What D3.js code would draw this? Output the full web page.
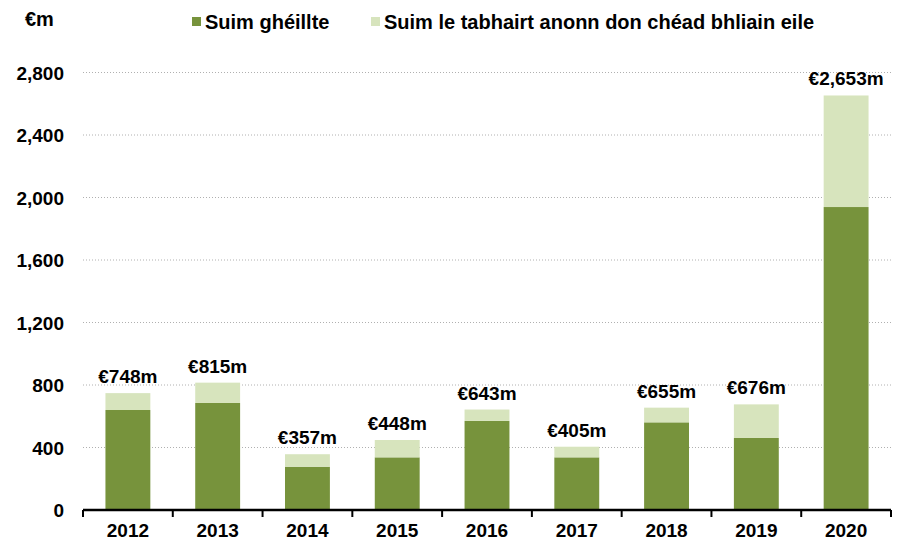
<!DOCTYPE html>
<html><head><meta charset="utf-8">
<script src="https://cdn.jsdelivr.net/npm/d3@7"></script>
<style>body{margin:0;background:#fff}svg{display:block}text{font-family:"Liberation Sans",Arial,sans-serif;font-weight:bold;fill:#000}</style>
</head><body><svg id="c" width="902" height="543"></svg>
<script>
const years = ["2012","2013","2014","2015","2016","2017","2018","2019","2020"];
const paid = [640, 685, 277, 337, 570, 337, 561, 461, 1939];
const deferred = [108, 130, 80, 111, 73, 68, 94, 215, 714];
const seriesNames = ["Suim ghéillte", "Suim le tabhairt anonn don chéad bhliain eile"];
const yTicks = [0, 400, 800, 1200, 1600, 2000, 2400, 2800];
const colors = ["#77933C", "#D7E4BD"];

const svg = d3.select("#c");
const x = d3.scaleBand().domain(years).range([83, 891]).paddingInner(0.5).paddingOuter(0.25);
const y = d3.scaleLinear().domain([0, 2800]).range([510, 72.5]);

// gridlines
svg.append("g").selectAll("line").data(yTicks.filter(d => d > 0)).join("line")
  .attr("x1", 83).attr("x2", 891).attr("y1", d => y(d)).attr("y2", d => y(d))
  .attr("stroke", "#b0b0b0").attr("stroke-width", 1).attr("stroke-dasharray", "1,2");

const data = years.map((yr, i) => ({yr, paid: paid[i], deferred: deferred[i]}));
const stack = d3.stack().keys(["paid", "deferred"])(data);
svg.append("g").selectAll("g").data(stack).join("g").attr("fill", (d, i) => colors[i])
  .selectAll("rect").data(d => d).join("rect")
  .attr("x", d => x(d.data.yr)).attr("width", x.bandwidth())
  .attr("y", d => y(d[1])).attr("height", d => y(d[0]) - y(d[1]));

// value labels
svg.append("g").selectAll("text").data(data).join("text")
  .attr("x", d => x(d.yr) + x.bandwidth() / 2)
  .attr("y", d => y(d.paid + d.deferred) - 10)
  .attr("text-anchor", "middle").attr("font-size", 19)
  .text(d => "€" + d3.format(",")(d.paid + d.deferred) + "m");

// y axis labels
svg.append("g").selectAll("text").data(yTicks).join("text")
  .attr("x", 64).attr("y", d => y(d) + 7).attr("text-anchor", "end").attr("font-size", 19)
  .text(d => d3.format(",")(d));

// x axis
const xa = svg.append("g").attr("transform", "translate(0,510)")
  .call(d3.axisBottom(x).tickSize(0).tickPadding(14));
xa.select(".domain").remove();
xa.selectAll("text").attr("font-size", 19).style("font-family", "Liberation Sans, Arial, sans-serif").style("font-weight", "bold").attr("fill", "#000");
svg.append("line").attr("x1", 83).attr("x2", 891).attr("y1", 510).attr("y2", 510).attr("stroke", "#000").attr("stroke-width", 2.5);
const edges = d3.range(years.length + 1).map(i => 83 + i * x.step());
svg.append("g").selectAll("line").data(edges).join("line")
  .attr("x1", d => d).attr("x2", d => d).attr("y1", 510).attr("y2", 517)
  .attr("stroke", "#000").attr("stroke-width", 2);

// unit
svg.append("text").attr("x", 25).attr("y", 26).attr("font-size", 20).text("€m");

// legend
const lx = [192, 371];
seriesNames.forEach((n, i) => {
  svg.append("rect").attr("x", lx[i]).attr("y", 17).attr("width", 9).attr("height", 9).attr("fill", colors[i]);
  svg.append("text").attr("x", lx[i] + 13).attr("y", 29).attr("font-size", 20).text(n);
});
</script></body></html>
